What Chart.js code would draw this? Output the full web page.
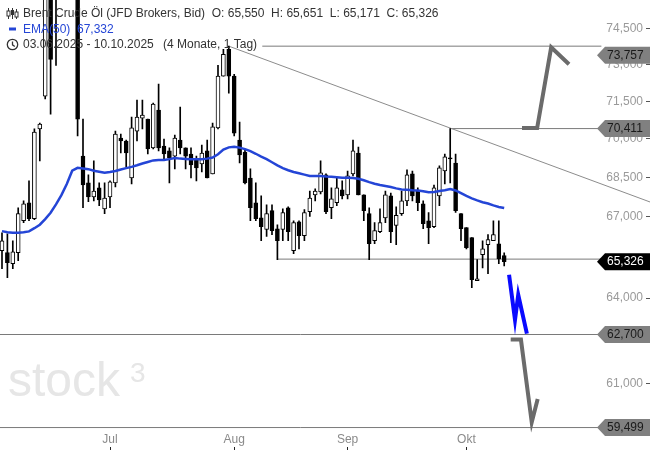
<!DOCTYPE html>
<html><head><meta charset="utf-8">
<script src="https://cdn.jsdelivr.net/npm/chart.js@4.4.1/dist/chart.umd.min.js"></script>
<style>html,body{margin:0;padding:0;background:#fff;}canvas{display:block;}</style>
</head><body>
<canvas id="c" width="650" height="450"></canvas>
<script>
// ---- data (Brent Crude, daily, 03.06.2025 - 10.10.2025) ----
const opens = [65.73,65.66,65.25,65.66,66.85,67.53,66.93,70.40,71.71,76.00,75.90,76.90,76.50,77.80,77.00,69.33,68.29,67.75,68.10,67.30,67.75,68.29,70.04,69.92,68.48,70.31,70.83,70.79,69.65,71.15,69.72,69.53,69.33,69.96,69.65,69.41,69.22,69.02,69.53,68.64,70.44,72.52,73.63,72.52,69.96,69.49,68.48,67.53,66.96,66.52,67.23,66.55,66.52,67.34,65.73,66.81,66.29,67.19,67.83,67.94,68.60,67.34,67.53,68.02,67.83,68.64,69.45,67.83,67.12,66.10,66.44,66.96,67.79,66.67,67.12,67.60,68.64,67.98,67.49,66.85,66.63,67.79,68.75,69.26,69.06,67.12,66.59,66.22,64.63,65.58,65.95,66.10,65.99,65.55];
const highs = [66.40,66.36,66.10,67.34,67.60,68.37,70.40,70.63,76.90,76.80,77.50,77.60,78.40,78.10,78.50,70.79,68.60,69.14,68.29,68.29,68.37,70.31,70.19,69.96,70.87,71.55,71.55,70.79,71.43,72.20,70.00,69.65,70.15,71.27,69.65,69.65,69.33,69.76,69.96,70.63,72.96,73.63,73.757,72.60,70.67,69.55,68.83,68.29,67.79,67.45,67.45,66.70,67.30,67.38,66.85,66.85,67.27,67.98,68.06,69.14,68.64,68.10,68.48,68.37,68.75,69.96,69.68,67.83,67.34,66.78,67.30,67.98,67.90,67.38,67.98,68.79,68.75,68.10,67.60,67.16,68.21,68.95,69.41,70.411,69.41,67.12,66.59,66.22,65.40,66.10,66.33,66.85,66.85,65.651];
const lows = [65.07,64.74,65.07,65.36,66.78,66.85,66.89,69.14,71.60,70.99,72.96,75.90,76.00,76.20,70.12,67.34,67.57,67.60,67.42,67.12,67.34,68.14,69.45,68.91,68.25,69.92,70.40,69.41,69.61,69.53,69.22,68.29,68.83,69.41,68.83,68.48,68.37,68.71,68.48,68.64,70.40,72.52,71.83,70.12,69.06,68.25,66.85,66.85,66.10,66.26,66.33,65.40,66.10,66.10,65.62,65.80,66.10,67.01,67.60,67.87,67.12,66.93,67.42,67.68,67.68,68.56,67.83,66.85,65.40,65.99,66.40,66.78,66.03,65.95,67.05,67.42,67.60,67.23,66.55,65.99,66.59,67.42,68.25,68.29,67.16,66.10,65.80,64.38,64.63,65.10,64.89,66.10,65.25,65.171];
const closes = [66.10,65.29,65.69,67.12,67.49,66.93,70.27,70.59,76.20,73.21,76.90,76.50,77.80,76.90,70.79,68.21,67.75,67.98,67.64,67.71,68.33,70.19,69.92,69.45,70.44,70.87,70.95,69.61,71.39,69.65,69.41,69.26,70.04,69.65,69.33,68.98,68.87,69.45,68.48,70.48,72.52,73.42,72.52,70.23,69.37,68.29,67.34,66.93,66.63,67.12,66.48,66.10,67.16,66.44,66.78,66.29,67.16,67.71,67.98,68.68,67.19,67.68,68.10,67.79,68.56,69.53,67.83,67.23,65.99,66.48,66.78,67.83,66.44,67.05,67.60,68.60,67.79,67.53,66.74,66.59,68.10,68.87,69.30,69.22,67.23,66.55,65.84,64.67,64.70,65.80,66.14,66.33,65.43,65.326];
const ema50 = [66.46,66.42,66.40,66.40,66.42,66.45,66.57,66.70,66.91,67.15,67.47,67.82,68.25,68.76,68.87,68.85,68.82,68.76,68.72,68.68,68.71,68.75,68.81,68.86,68.91,68.97,69.04,69.10,69.16,69.18,69.18,69.21,69.25,69.23,69.22,69.21,69.21,69.21,69.23,69.27,69.40,69.58,69.67,69.69,69.66,69.60,69.52,69.42,69.31,69.21,69.09,68.97,68.86,68.78,68.71,68.66,68.61,68.56,68.56,68.56,68.54,68.53,68.51,68.49,68.49,68.48,68.45,68.39,68.32,68.26,68.21,68.17,68.13,68.08,68.04,68.03,68.01,68.00,67.97,67.93,67.94,67.98,68.01,68.05,68.00,67.90,67.79,67.70,67.62,67.55,67.50,67.43,67.37,67.332];
const monthTicks = [20, 43, 64, 86];
const monthLabels = ['Jul', 'Aug', 'Sep', 'Okt'];
const yTicks = [59.5, 61, 62.5, 64, 65.5, 67, 68.5, 70, 71.5, 73, 74.5];
// drawn levels
const levelHigh = 73.757, levelMid = 70.411, levelSupport = 65.42, levelTarget1 = 62.7, levelTarget2 = 59.499, lastPrice = 65.326;
const trendX = [42, 120], trendY = [73.757, 67.56];
const arrowUpX = [96.3, 99.1, 101.7, 105.0], arrowUpY = [70.43, 70.43, 73.71, 73.01];
const arrowBlueX = [93.9, 95.0, 95.6, 97.2], arrowBlueY = [64.85, 63.22, 64.12, 62.73];
const arrowDownX = [94.2, 96.1, 98.1, 99.2], arrowDownY = [62.52, 62.52, 59.68, 60.46];
const tagValues = [73.757, 70.411, 65.326, 62.7, 59.499];

const FONT = '"Liberation Sans", Arial, sans-serif';
Chart.defaults.font.family = FONT;
const fmt = v => Number(v).toFixed(3).replace('.', ',');
const pts = (xs, ys) => xs.map((x, i) => ({x: x, y: ys[i]}));
const hline = (x0, x1, v) => [{x: x0, y: v}, {x: x1, y: v}];
const XMIN = -2 / 5.4, XMAX = 644 / 5.4;

const lineDs = (data, color, width, order, extra) => Object.assign({
  type: 'line', data: data, borderColor: color, borderWidth: width, pointRadius: 0,
  fill: false, tension: 0, order: order, borderCapStyle: 'butt', borderJoinStyle: 'miter'
}, extra || {});

const watermark = {
  id: 'watermark',
  beforeDatasetsDraw(chart) {
    const ctx = chart.ctx;
    ctx.save();
    ctx.fillStyle = '#e6e6e6';
    ctx.textBaseline = 'alphabetic';
    ctx.textAlign = 'left';
    ctx.font = '48px ' + FONT;
    ctx.fillText('stock', 8, 396);
    ctx.font = '28px ' + FONT;
    ctx.fillText('3', 130, 382);
    ctx.restore();
  }
};

const priceTags = {
  id: 'priceTags',
  afterDatasetsDraw(chart) {
    const ctx = chart.ctx, ys = chart.scales.y;
    ctx.save();
    tagValues.forEach(v => {
      const shift = v === levelHigh ? 9 : 0;
      const cy = ys.getPixelForValue(v) + shift;
      const dark = v === lastPrice;
      ctx.beginPath();
      ctx.moveTo(597, cy);
      ctx.lineTo(605, cy - 8.5);
      ctx.lineTo(650, cy - 8.5);
      ctx.lineTo(650, cy + 8.5);
      ctx.lineTo(605, cy + 8.5);
      ctx.closePath();
      ctx.fillStyle = dark ? '#000' : '#808080';
      ctx.fill();
      ctx.fillStyle = dark ? '#fff' : '#1a1a1a';
      ctx.font = '12px ' + FONT;
      ctx.textAlign = 'left';
      ctx.textBaseline = 'middle';
      ctx.fillText(fmt(v), 607, cy + 0.5);
    });
    ctx.restore();
  }
};

const header = {
  id: 'header',
  afterDraw(chart) {
    const ctx = chart.ctx;
    ctx.save();
    ctx.font = '12px ' + FONT;
    ctx.textBaseline = 'middle';
    ctx.textAlign = 'left';
    // candle icon
    ctx.strokeStyle = '#333'; ctx.fillStyle = '#333'; ctx.lineWidth = 1;
    [[8.5, 8, 19, 11, 16, false], [12.5, 8, 19, 10, 15, true], [16.5, 9, 19, 12, 17, false]].forEach(c => {
      ctx.beginPath(); ctx.moveTo(c[0], c[1]); ctx.lineTo(c[0], c[2]); ctx.stroke();
      if (c[5]) { ctx.fillRect(c[0] - 1.5, c[3], 3, c[4] - c[3]); }
      else { ctx.fillStyle = '#fff'; ctx.fillRect(c[0] - 1.5, c[3], 3, c[4] - c[3]); ctx.strokeRect(c[0] - 1.5, c[3], 3, c[4] - c[3]); ctx.fillStyle = '#333'; }
    });
    ctx.fillStyle = '#333';
    ctx.fillText('Brent Crude \u00d6l (JFD Brokers, Bid)  O: ' + fmt(opens[opens.length - 1]) + '  H: ' + fmt(highs[highs.length - 1]) + '  L: ' + fmt(lows[lows.length - 1]) + '  C: ' + fmt(closes[closes.length - 1]), 23, 13.5);
    // EMA line
    ctx.fillStyle = '#2546d6';
    ctx.fillRect(9, 27.5, 7, 3);
    ctx.fillText('EMA(50)  ' + fmt(ema50[ema50.length - 1]), 23, 29.5);
    // clock
    ctx.strokeStyle = '#333'; ctx.lineWidth = 1.3;
    ctx.beginPath(); ctx.arc(12.5, 44.5, 5.2, 0, Math.PI * 2); ctx.stroke();
    ctx.beginPath(); ctx.moveTo(12.5, 41.5); ctx.lineTo(12.5, 44.8); ctx.lineTo(14.8, 46.5); ctx.stroke();
    ctx.fillStyle = '#333';
    ctx.fillText('03.06.2025 - 10.10.2025', 23, 45);
    ctx.fillText('(4 Monate, 1 Tag)', 163, 45);
    ctx.restore();
  }
};

const zeroPad = s => { s.paddingTop = 0; s.paddingBottom = 0; s.paddingLeft = 0; s.paddingRight = 0; };
const monthTickBuild = s => { s.ticks = monthTicks.map(v => ({value: v})); };
// hide axis labels that sit underneath a price tag
const yLabel = function (v) {
  const px = this.getPixelForValue(v);
  const hidden = tagValues.some(t => t !== levelHigh && Math.abs(this.getPixelForValue(t) - px) < 8);
  return hidden ? '' : fmt(v);
};

new Chart(document.getElementById('c'), {
  type: 'bar',
  data: {
    datasets: [
      lineDs(ema50.map((v, i) => ({x: i, y: v})), '#2445d6', 2.5, 0),
      lineDs(pts(arrowUpX, arrowUpY), '#6b6b6b', 4, 0),
      lineDs(pts(arrowBlueX, arrowBlueY), '#0a0aff', 4, 0),
      lineDs(pts(arrowDownX, arrowDownY), '#6b6b6b', 4, 0),
      {
        type: 'bar', order: 1, grouped: false, barThickness: 4,
        data: opens.map((o, i) => ({x: i, y: [o, closes[i]]})),
        backgroundColor: opens.map((o, i) => closes[i] < o ? '#000' : '#fff'),
        borderColor: '#000', borderWidth: 1, borderSkipped: false
      },
      {
        type: 'bar', order: 2, grouped: false, barThickness: 1,
        data: lows.map((l, i) => ({x: i, y: [l, highs[i]]})),
        backgroundColor: '#000', borderWidth: 0
      },
      lineDs(pts(trendX, trendY), '#8c8c8c', 1, 3, {clip: {left: 0, top: 0, right: 4, bottom: 0}}),
      lineDs(hline(48.2, 111, levelHigh), '#7a7a7a', 1, 3),
      lineDs(hline(83, 111, levelMid), '#7a7a7a', 1, 3),
      lineDs(hline(51, 111, levelSupport), '#7a7a7a', 1, 3),
      lineDs(hline(XMIN, 111, levelTarget1), '#7a7a7a', 1, 3),
      lineDs(hline(XMIN, 111, levelTarget2), '#7a7a7a', 1, 3)
    ]
  },
  options: {
    responsive: false, animation: false, devicePixelRatio: 1,
    layout: {padding: 0},
    plugins: {legend: {display: false}, tooltip: {enabled: false}},
    scales: {
      x: {
        type: 'linear', min: XMIN, max: XMAX, bounds: 'data', offset: false,
        afterBuildTicks: monthTickBuild, afterFit: zeroPad,
        ticks: {padding: 0, color: '#8a8a8a', font: {size: 12}, maxRotation: 0, autoSkip: false,
          callback: (v, i) => monthLabels[i]},
        grid: {display: false, offset: false, drawTicks: false, tickLength: 0},
        border: {display: false}
      },
      x2: {
        type: 'linear', axis: 'x', position: 'bottom', weight: 1, min: XMIN, max: XMAX, bounds: 'data', offset: false,
        afterBuildTicks: monthTickBuild, afterFit: zeroPad,
        ticks: {display: false},
        grid: {display: true, offset: false, drawOnChartArea: false, drawTicks: true, tickLength: 3, tickColor: '#222'},
        border: {display: false}
      },
      y: {
        type: 'logarithmic', position: 'right', min: 59.33, max: 75.70, bounds: 'data',
        afterBuildTicks: s => { s.ticks = yTicks.map(v => ({value: v})); },
        afterFit: zeroPad,
        ticks: {mirror: true, padding: -3, color: '#9a9a9a', font: {size: 12}, autoSkip: false, callback: yLabel},
        grid: {display: true, drawOnChartArea: false, drawTicks: true, tickLength: 10, tickColor: '#555'},
        border: {display: false}
      }
    }
  },
  plugins: [watermark, priceTags, header]
});
</script>
</body></html>
